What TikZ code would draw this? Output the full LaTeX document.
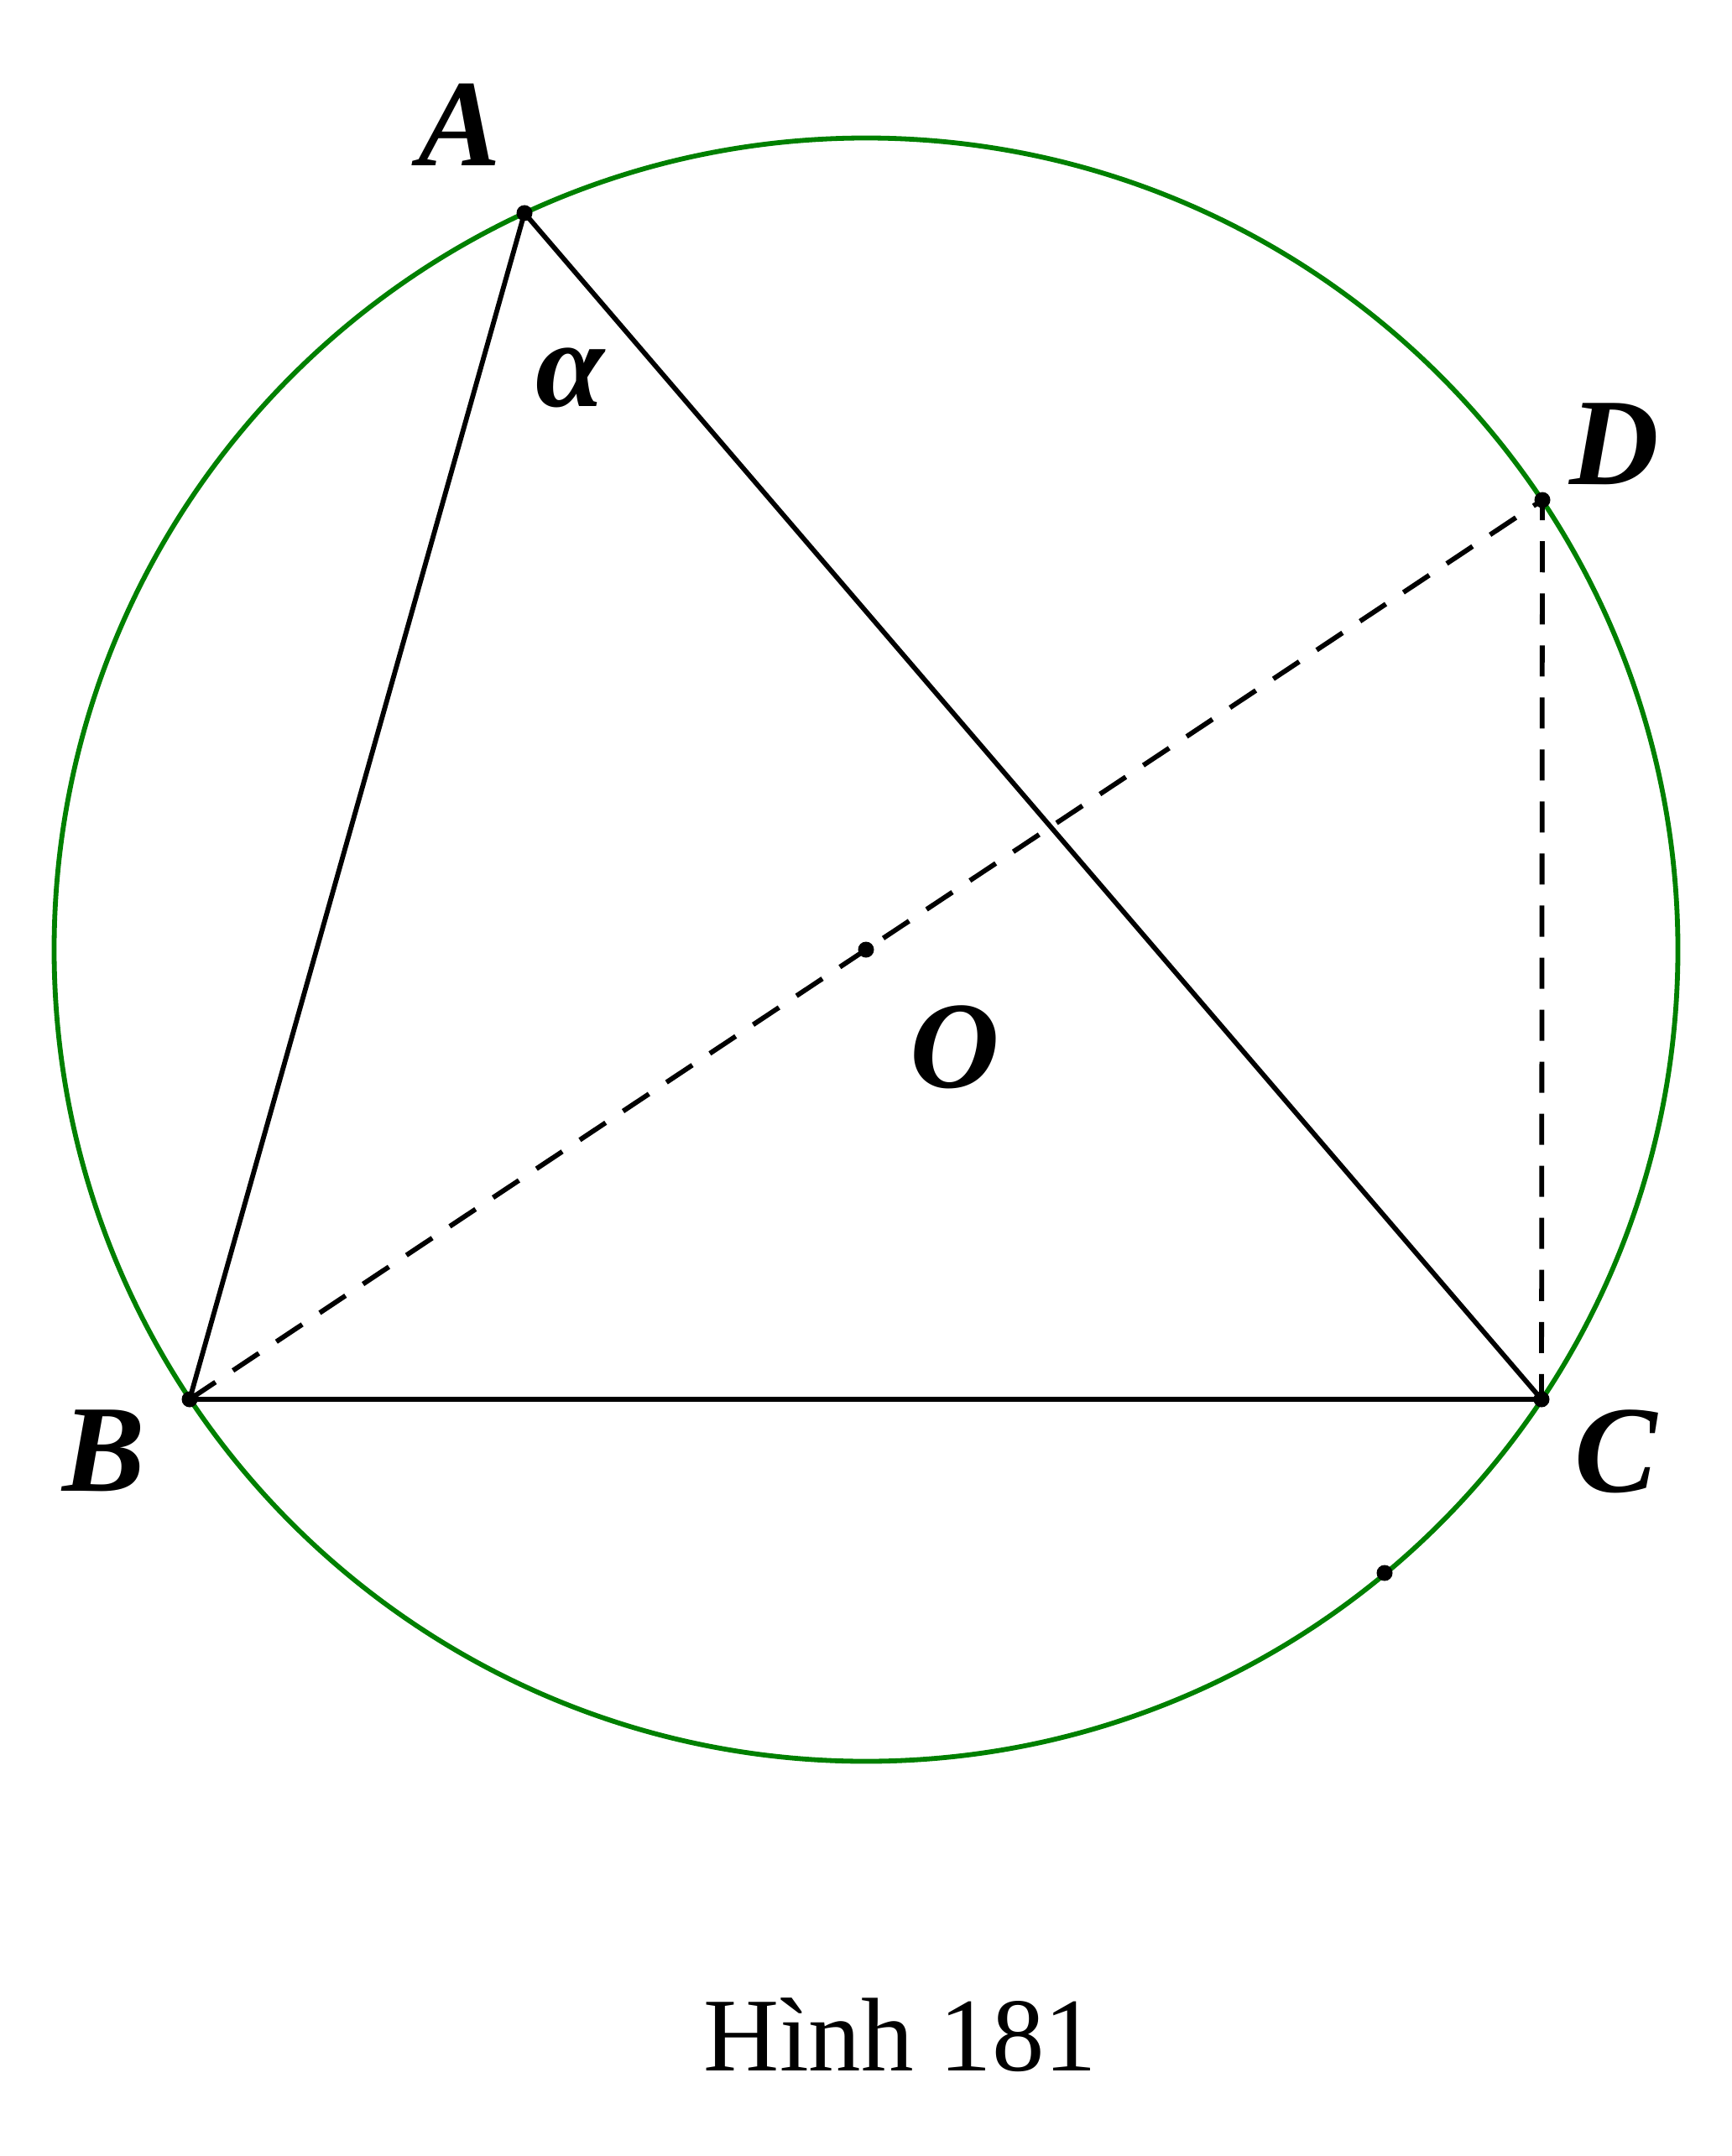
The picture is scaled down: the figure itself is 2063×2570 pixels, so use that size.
\documentclass[tikz,border=0pt]{standalone}
\usepackage{fontspec}
\setmainfont{Liberation Serif}
\usepackage{tikz}
\definecolor{circlegreen}{RGB}{0,128,0}
\tikzset{
    vlabel/.style={font=\fontsize{42}{50}\selectfont\bfseries\itshape, inner sep=0pt},
    dashline/.style={dash pattern=on 0.37cm off 0.25cm}
}

\begin{document}
\begin{tikzpicture}[x=0.01cm, y=-0.01cm, line width=0.058cm]
        \useasboundingbox (0, 0) rectangle (2063, 2570);

        % The points
        \coordinate (O) at (1032, 1132);
        \coordinate (A) at (625, 254);
        \coordinate (B) at (226, 1668);
        \coordinate (C) at (1837, 1668);
        \coordinate (D) at (1838, 596);
        \coordinate (E) at (1650, 1875);

        % The circle
        \draw[circlegreen] (O) circle[radius=967.5];

        % The triangle
        \draw (A) -- (B) -- (C) -- cycle;

        % The diameter and the chord
        \draw[dashline] (B) -- (D) -- (C);

        % The dots
        \foreach \p in {O, A, B, C, D, E}
            \fill (\p) circle[radius=9.5];

        % The labels of the vertices
        \node[vlabel] (labA) at (548, 149) {A};
        \node[vlabel] (labB) at (124, 1729) {B};
        \node[vlabel] (labC) at (1926, 1730) {C};
        \node[vlabel] (labD) at (1924, 529) {D};
        \node[vlabel] (labO) at (1138, 1248) {O};
        \node[vlabel] (alpha) at (679, 450) {α};

        % The caption
        \node[font=\fontsize{35.5}{42}\selectfont, anchor=base] (caption) at (1073, 2468) {Hình 181};
    \end{tikzpicture}
\end{document}
